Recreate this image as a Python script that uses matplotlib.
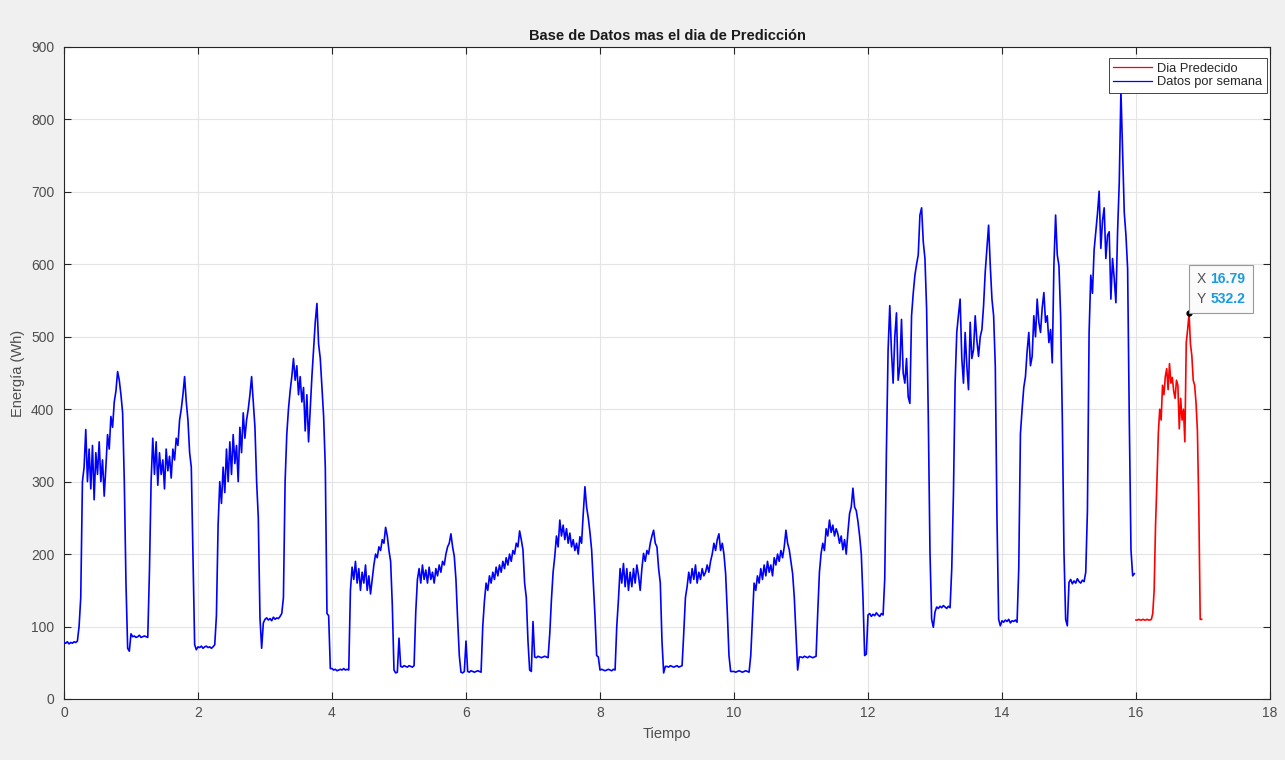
import numpy as np
import matplotlib
matplotlib.use("Agg")
import matplotlib.pyplot as plt
from matplotlib.offsetbox import TextArea, HPacker, VPacker, AnnotationBbox

plt.rcParams['font.family'] = ['Liberation Sans', 'DejaVu Sans']

# Sampling of the stored series (samples per day)
SAMPLES_PER_DAY = 40
PRED_SAMPLES_PER_DAY = 48

# Energy per sample (Wh) for each day of the historical record
day_00 = [78, 77, 79, 76, 78, 77, 79, 78, 80, 100, 140, 300, 320, 372, 300, 345, 290, 350, 275, 340,
          310, 355, 300, 330, 280, 320, 365, 345, 390, 375, 410, 425, 452, 440, 420, 395, 300, 160, 70, 66]
day_01 = [90, 86, 87, 85, 86, 88, 85, 86, 87, 86, 85, 175, 300, 360, 310, 355, 295, 340, 310, 330,
          290, 345, 315, 335, 305, 345, 330, 360, 350, 385, 400, 420, 445, 410, 385, 340, 320, 200, 75, 68]
day_02 = [72, 71, 73, 70, 72, 73, 71, 72, 70, 72, 75, 115, 240, 300, 270, 320, 285, 345, 300, 355,
          310, 365, 325, 350, 300, 375, 340, 395, 360, 385, 400, 420, 445, 410, 375, 300, 250, 112, 70, 105]
day_03 = [110, 112, 109, 111, 108, 113, 110, 112, 111, 114, 118, 140, 300, 365, 400, 425, 445, 470, 440, 460,
          420, 445, 410, 430, 370, 420, 355, 400, 445, 482, 520, 546, 490, 470, 430, 390, 320, 118, 115, 42]
day_04 = [42, 40, 41, 39, 40, 41, 40, 42, 40, 41, 40, 150, 182, 165, 190, 160, 180, 150, 175, 160,
          185, 150, 170, 145, 165, 185, 200, 195, 210, 205, 220, 215, 237, 225, 205, 190, 130, 40, 36, 37]
day_05 = [84, 45, 44, 46, 45, 44, 46, 45, 44, 46, 120, 165, 180, 160, 185, 165, 178, 160, 182, 165,
          175, 160, 180, 170, 185, 175, 190, 185, 200, 210, 215, 228, 210, 197, 165, 110, 60, 37, 36, 38]
day_06 = [80, 38, 37, 39, 38, 37, 38, 39, 38, 37, 100, 135, 160, 150, 170, 160, 175, 165, 182, 170,
          185, 175, 190, 180, 195, 185, 200, 190, 205, 200, 215, 210, 232, 220, 206, 160, 140, 80, 40, 38]
day_07 = [107, 58, 57, 59, 58, 57, 58, 59, 58, 57, 90, 137, 175, 197, 225, 210, 247, 225, 240, 220,
          235, 215, 229, 210, 220, 205, 215, 200, 224, 215, 256, 293, 265, 250, 230, 206, 160, 115, 60, 58]
day_08 = [40, 41, 40, 39, 40, 41, 40, 39, 41, 40, 100, 137, 180, 160, 187, 155, 180, 150, 175, 155,
          180, 160, 185, 170, 150, 180, 201, 190, 205, 200, 215, 225, 233, 215, 210, 180, 160, 80, 36, 45]
day_09 = [45, 44, 46, 45, 44, 45, 46, 44, 45, 46, 91, 140, 155, 175, 160, 180, 165, 185, 160, 175,
          165, 180, 170, 175, 185, 175, 190, 200, 215, 205, 220, 228, 205, 215, 200, 173, 120, 60, 38, 38]
day_10 = [38, 37, 38, 39, 38, 37, 38, 39, 38, 37, 60, 110, 160, 150, 170, 160, 180, 165, 185, 170,
          190, 175, 185, 170, 195, 185, 200, 190, 205, 195, 210, 233, 215, 206, 190, 173, 140, 91, 40, 58]
day_11 = [58, 57, 59, 58, 57, 59, 58, 57, 58, 59, 120, 175, 201, 215, 205, 235, 225, 247, 230, 240,
          225, 235, 228, 215, 225, 206, 220, 200, 230, 256, 265, 291, 265, 260, 245, 225, 200, 140, 60, 62]
day_12 = [116, 118, 114, 117, 115, 119, 116, 114, 118, 116, 166, 343, 482, 543, 480, 436, 500, 533, 440, 459,
          524, 450, 436, 470, 417, 408, 529, 560, 585, 600, 613, 668, 678, 631, 608, 538, 389, 203, 110, 99]
day_13 = [120, 127, 125, 128, 126, 129, 127, 125, 128, 126, 180, 282, 436, 506, 530, 552, 470, 436, 506, 460,
          427, 520, 470, 482, 529, 495, 473, 500, 510, 543, 590, 622, 654, 598, 552, 529, 459, 250, 110, 101]
day_14 = [108, 106, 109, 107, 110, 105, 108, 107, 109, 106, 180, 366, 400, 430, 445, 480, 506, 460, 473, 529,
          500, 552, 520, 506, 540, 561, 520, 529, 492, 510, 464, 600, 668, 613, 598, 529, 389, 203, 110, 101]
day_15 = [161, 165, 159, 163, 160, 166, 162, 160, 164, 162, 175, 260, 506, 585, 560, 620, 645, 670, 701, 622,
          660, 678, 608, 640, 645, 552, 608, 580, 547, 645, 713, 840, 755, 671, 640, 594, 385, 206, 170, 173]

# Predicted day (Wh), half-hour resolution
predicted = [109, 109, 110, 109, 109, 110, 109, 109, 110, 109, 109, 110,
             118, 150, 240, 300, 367, 400, 385, 433, 420, 445, 456, 427,
             463, 436, 444, 425, 415, 440, 433, 373, 415, 385, 400, 355,
             492, 510, 532.2, 490, 474, 440, 433, 409, 370, 265, 110, 110]

x_ticks = [0, 2, 4, 6, 8, 10, 12, 14, 16, 18]
y_ticks = [0, 100, 200, 300, 400, 500, 600, 700, 800, 900]

history = np.concatenate([day_00, day_01, day_02, day_03, day_04, day_05, day_06, day_07,
                          day_08, day_09, day_10, day_11, day_12, day_13, day_14, day_15])
t_history = np.arange(len(history)) / SAMPLES_PER_DAY
n_days = len(history) // SAMPLES_PER_DAY
t_pred = n_days + np.arange(len(predicted)) / PRED_SAMPLES_PER_DAY
pred = np.asarray(predicted, dtype=float)

W, H = 1285, 760
fig = plt.figure(figsize=(W / 100, H / 100), dpi=100, facecolor='#f0f0f0')
ax = fig.add_axes([64 / W, 1 - 699 / H, (1270 - 64) / W, (699 - 47) / H])
ax.set_facecolor('white')

ax.plot(t_pred, pred, color='#ff0000', lw=1.2, label='Dia Predecido', zorder=3)
ax.plot(t_history, history, color='#0000ff', lw=1.2, label='Datos por semana', zorder=3)

ax.set_xlim(0, 18)
ax.set_ylim(0, 900)
ax.set_xticks(x_ticks)
ax.set_yticks(y_ticks)
ax.grid(True, color='#e4e4e4', lw=0.8)
ax.set_axisbelow(True)
ax.tick_params(direction='in', length=5, width=0.8, top=True, right=True,
               labelsize=10, colors='#262626', labelcolor='#4d4d4d')
ax.tick_params(axis='y', pad=7)
ax.tick_params(axis='x', pad=5)
for s in ax.spines.values():
    s.set_color('#262626')
    s.set_linewidth(0.8)

ax.set_title('Base de Datos mas el dia de Predicción', fontsize=10.5,
             fontweight='bold', color='#1a1a1a', pad=5)
ax.set_xlabel('Tiempo', fontsize=10.5, color='#4d4d4d', labelpad=5)
ax.set_ylabel('Energía (Wh)', fontsize=10.5, color='#4d4d4d', labelpad=4)

leg = ax.legend(loc='upper right', bbox_to_anchor=(0.9975, 0.983), borderaxespad=0,
                fontsize=9.3, frameon=True, fancybox=False, framealpha=1,
                edgecolor='#262626', handlelength=3.0, handletextpad=0.4,
                labelspacing=0.12, borderpad=0.35)
leg.get_frame().set_linewidth(0.6)
for txt in leg.get_texts():
    txt.set_color('#262626')
for ln in leg.get_lines():
    ln.set_linewidth(0.9)

# Data tip on the predicted maximum
i_tip = int(np.argmax(pred))
tip_x, tip_y = t_pred[i_tip], pred[i_tip]
ax.plot([tip_x], [tip_y], 'o', color='black', ms=3.5, zorder=5)
lab = dict(color='#505050', fontsize=10)
val = dict(color='#1a9be0', fontsize=10, fontweight='bold')
rows = VPacker(children=[
    HPacker(children=[TextArea('X', textprops=lab), TextArea(f'{tip_x:.2f}', textprops=val)],
            sep=3, pad=0),
    HPacker(children=[TextArea('Y', textprops=lab), TextArea(f'{tip_y:.1f}', textprops=val)],
            sep=3, pad=0),
], sep=4, pad=0, align='left')
tip_pad = 0.55
ab = AnnotationBbox(rows, (tip_x, tip_y), xybox=(tip_pad * 10, tip_pad * 10), xycoords='data',
                    boxcoords='offset points', box_alignment=(0, 0), pad=tip_pad,
                    bboxprops=dict(facecolor='#fbfbfb', edgecolor='#9a9a9a', lw=0.8),
                    zorder=6)
ax.add_artist(ab)

fig.savefig('out.png', dpi=100, facecolor=fig.get_facecolor())
